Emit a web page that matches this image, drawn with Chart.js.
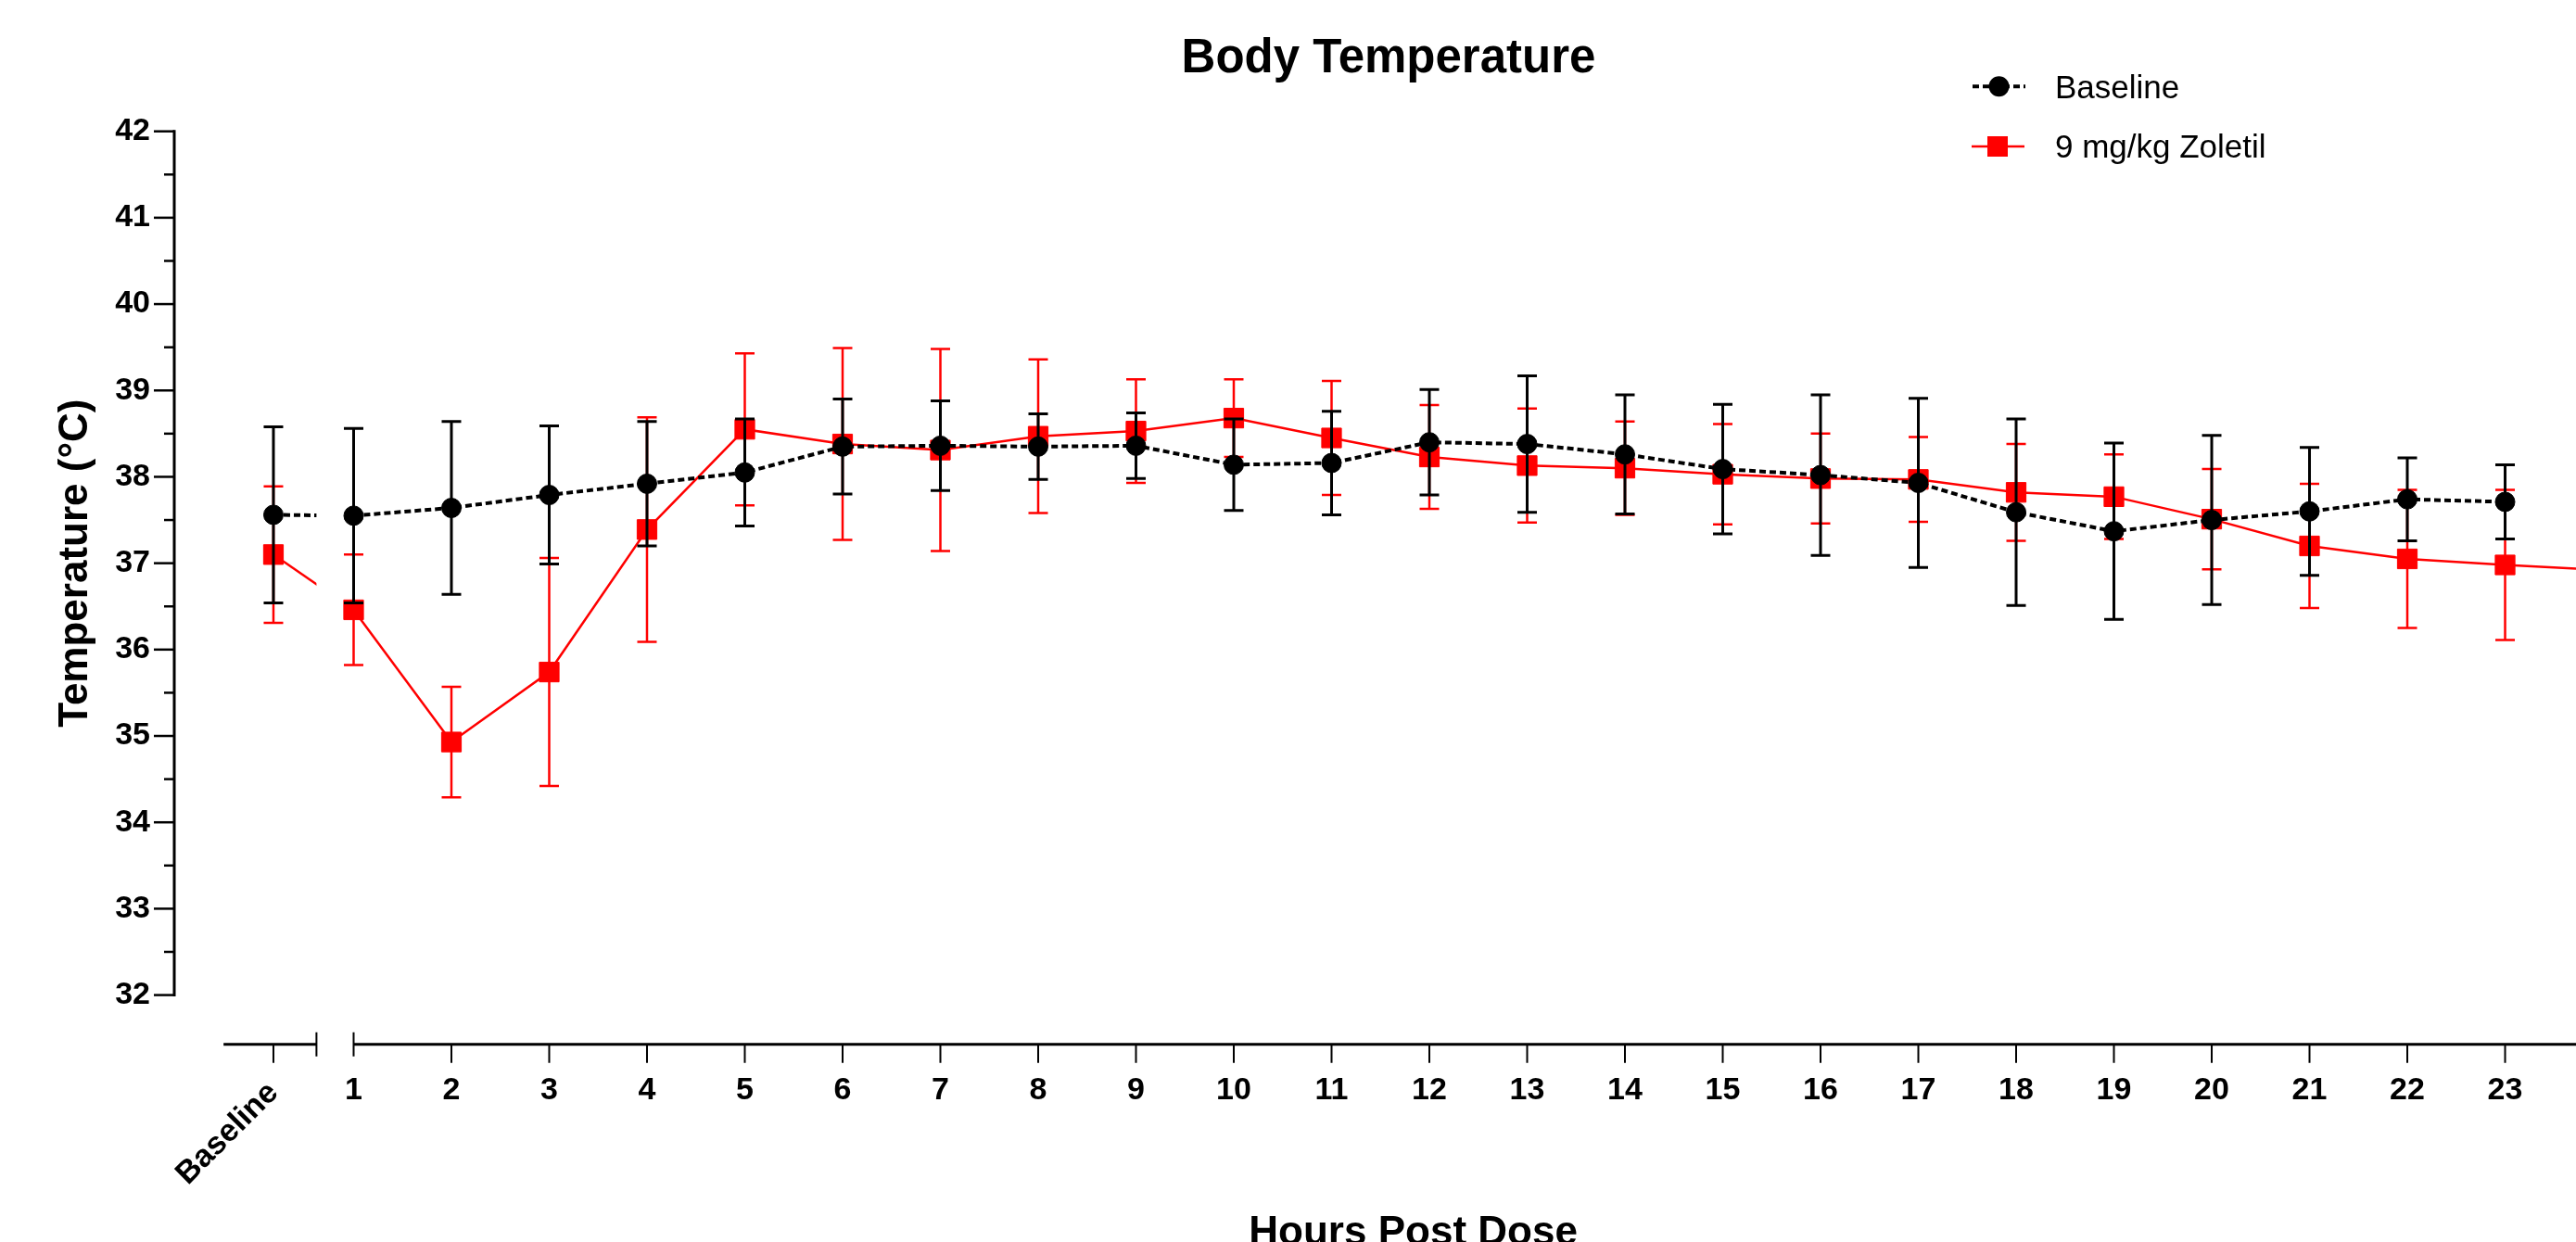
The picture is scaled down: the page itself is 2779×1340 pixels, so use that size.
<!DOCTYPE html>
<html>
<head>
<meta charset="utf-8">
<script src="https://cdn.jsdelivr.net/npm/chart.js@4.4.1/dist/chart.umd.min.js"></script>
<style>
  html, body { margin: 0; padding: 0; overflow: hidden; background: #fff; }
  canvas { display: block; }
</style>
</head>
<body>
<canvas id="graf_temp" width="2779" height="1340"></canvas>
<script>
// Datos: media y desviacion por hora (indice 0 = Baseline)
var hours = [1, 2, 3, 4, 5, 6, 7, 8, 9, 10, 11, 12, 13, 14, 15, 16, 17, 18, 19, 20, 21, 22, 23, 24];
var hourLabels = ['1', '2', '3', '4', '5', '6', '7', '8', '9', '10', '11', '12',
  '13', '14', '15', '16', '17', '18', '19', '20', '21', '22', '23'];
var baselineLabel = 'Baseline';
var yTickValues = [32, 33, 34, 35, 36, 37, 38, 39, 40, 41, 42];

var baselineMean = [37.56, 37.55, 37.64, 37.79, 37.92, 38.05, 38.35, 38.36, 38.35, 38.36, 38.14, 38.16,
  38.40, 38.38, 38.26, 38.09, 38.02, 37.93, 37.59, 37.37, 37.50, 37.60, 37.74, 37.71, null];
var baselineSD = [1.02, 1.01, 1.00, 0.80, 0.72, 0.62, 0.55, 0.52, 0.38, 0.38, 0.53, 0.60,
  0.61, 0.79, 0.69, 0.75, 0.93, 0.98, 1.08, 1.02, 0.98, 0.74, 0.48, 0.43, null];

var zoletilMean = [37.10, 36.46, 34.93, 35.74, 37.39, 38.55, 38.38, 38.31, 38.47, 38.53, 38.68, 38.45,
  38.23, 38.13, 38.10, 38.03, 37.98, 37.97, 37.82, 37.77, 37.51, 37.20, 37.05, 36.98, 36.92];
var zoletilSD = [0.79, 0.64, 0.64, 1.32, 1.30, 0.88, 1.11, 1.17, 0.89, 0.60, 0.45, 0.66,
  0.60, 0.66, 0.54, 0.58, 0.52, 0.49, 0.56, 0.49, 0.58, 0.72, 0.80, 0.87, null];

var chartTitle = 'Body Temperature';
var xTitle = 'Hours Post Dose';
var yTitle = 'Temperature (°C)';

// Posicion del Baseline en el eje x y el corte del eje
var BASELINE_POS = 0.18;
var SEG1 = [-0.33, 0.62];
var AXIS_END = 24;
var X_MIN = -0.834, X_MAX = 23.725;
var Y_MIN = 31.43, Y_MAX = 42;
var FONT = '"Liberation Sans", Arial, sans-serif';
var xValues = [BASELINE_POS].concat(hours);

function toPoints(means) {
  return xValues.map(function (x, i) { return { x: x, y: means[i] }; })
    .filter(function (p) { return p.y !== null; });
}

var hideFirst = function (c) { return c.p0DataIndex === 0 ? 'rgba(0,0,0,0)' : undefined; };

var datasets = [
  {
    label: 'Baseline',
    data: toPoints(baselineMean),
    sd: baselineSD, means: baselineMean,
    borderColor: '#000', backgroundColor: '#000',
    borderWidth: 4, borderDash: [7, 4],
    pointStyle: 'circle', pointRadius: 10.5, pointBorderWidth: 1,
    pointBackgroundColor: '#000', pointBorderColor: '#000',
    errWidth: 3, tension: 0,
    segment: { borderColor: hideFirst }
  },
  {
    label: 'stub1', stub: true,
    data: toPoints(baselineMean).slice(0, 2),
    borderColor: '#000', borderWidth: 4, borderDash: [7, 4],
    pointRadius: 0, tension: 0
  },
  {
    label: '9 mg/kg Zoletil',
    data: toPoints(zoletilMean),
    sd: zoletilSD, means: zoletilMean,
    borderColor: '#ff0000', backgroundColor: '#ff0000',
    borderWidth: 2.5,
    pointStyle: 'rect', pointRadius: 15, pointBorderWidth: 1,
    pointBackgroundColor: '#ff0000', pointBorderColor: '#ff0000',
    errWidth: 2.5, tension: 0,
    segment: { borderColor: hideFirst }
  },
  {
    label: 'stub2', stub: true,
    data: toPoints(zoletilMean).slice(0, 2),
    borderColor: '#ff0000', borderWidth: 2.5,
    pointRadius: 0, tension: 0
  }
];

// Ejes tipo Prism, barras de error, titulos y leyenda
var prismPlugin = {
  id: 'prism',
  beforeDatasetDraw: function (chart, args) {
    var ds = chart.data.datasets[args.index];
    var ctx = chart.ctx, area = chart.chartArea;
    var xs = chart.scales.x, ys = chart.scales.y;
    if (ds.stub) {
      var xb = xs.getPixelForValue(SEG1[1]);
      ctx.save();
      ctx.beginPath();
      ctx.rect(area.left, area.top, xb - area.left, area.bottom - area.top);
      ctx.clip();
      return;
    }
    ctx.save();
    ctx.strokeStyle = ds.borderColor;
    ctx.lineWidth = ds.errWidth;
    xValues.forEach(function (xv, i) {
      var m = ds.means[i], s = ds.sd[i];
      if (m === null || s === null) return;
      var x = xs.getPixelForValue(xv);
      var y1 = ys.getPixelForValue(m + s), y2 = ys.getPixelForValue(m - s);
      ctx.beginPath();
      ctx.moveTo(x, y1); ctx.lineTo(x, y2);
      ctx.moveTo(x - 10.5, y1); ctx.lineTo(x + 10.5, y1);
      ctx.moveTo(x - 10.5, y2); ctx.lineTo(x + 10.5, y2);
      ctx.stroke();
    });
    ctx.restore();
  },
  afterDatasetDraw: function (chart, args) {
    if (chart.data.datasets[args.index].stub) chart.ctx.restore();
  },
  afterDraw: function (chart) {
    var ctx = chart.ctx, area = chart.chartArea;
    var xs = chart.scales.x, ys = chart.scales.y;
    var xEnd = xs.getPixelForValue(AXIS_END);
    ctx.save();
    ctx.strokeStyle = '#000';
    ctx.lineCap = 'butt';

    // eje y
    ctx.lineWidth = 3;
    ctx.beginPath();
    ctx.moveTo(area.left, ys.getPixelForValue(Y_MAX) - 1.5);
    ctx.lineTo(area.left, ys.getPixelForValue(32) + 1.5);
    ctx.stroke();
    ctx.lineWidth = 2.5;
    for (var v = 32; v <= 42; v += 0.5) {
      var y = ys.getPixelForValue(v);
      var len = (v % 1 === 0) ? 22 : 11;
      ctx.beginPath();
      ctx.moveTo(area.left - len, y); ctx.lineTo(area.left, y);
      ctx.stroke();
    }

    // eje x con corte
    var yb = area.bottom;
    ctx.lineWidth = 3;
    ctx.beginPath();
    ctx.moveTo(xs.getPixelForValue(SEG1[0]), yb); ctx.lineTo(xs.getPixelForValue(SEG1[1]), yb);
    ctx.moveTo(xs.getPixelForValue(1), yb); ctx.lineTo(xEnd, yb);
    ctx.stroke();
    ctx.lineWidth = 2;
    ctx.beginPath();
    [SEG1[1], 1].forEach(function (b) {
      var xb = xs.getPixelForValue(b);
      ctx.moveTo(xb, yb - 13); ctx.lineTo(xb, yb + 13);
    });
    [BASELINE_POS].concat(hours.slice(1)).forEach(function (h) {
      var xt = xs.getPixelForValue(h);
      ctx.moveTo(xt, yb); ctx.lineTo(xt, yb + 20);
    });
    ctx.stroke();

    ctx.fillStyle = '#000';
    ctx.textAlign = 'center';
    ctx.textBaseline = 'alphabetic';
    // titulo del grafico, centrado sobre el eje completo
    ctx.font = 'bold 51px ' + FONT;
    ctx.fillText(chartTitle, (area.left + xEnd) / 2, 78.3);

    // titulo eje x, centrado sobre la linea del eje
    ctx.font = 'bold 44px ' + FONT;
    ctx.fillText(xTitle, (xs.getPixelForValue(SEG1[0]) + xEnd) / 2, 1343);

    // titulo eje y
    ctx.save();
    ctx.translate(94, ys.getPixelForValue(37));
    ctx.rotate(-Math.PI / 2);
    ctx.fillText(yTitle, 0, 0);
    ctx.restore();

    // etiqueta Baseline girada
    ctx.font = 'bold 34px ' + FONT;
    ctx.translate(xs.getPixelForValue(BASELINE_POS), yb + 47);
    ctx.rotate(-Math.PI / 4);
    ctx.textAlign = 'right';
    ctx.textBaseline = 'middle';
    ctx.fillText(baselineLabel, 0, 0);
    ctx.restore();

    // leyenda
    ctx.save();
    ctx.strokeStyle = '#000';
    ctx.fillStyle = '#000';
    ctx.lineWidth = 4;
    ctx.setLineDash([7, 4]);
    ctx.beginPath();
    ctx.moveTo(2128, 93.3); ctx.lineTo(2185, 93.3);
    ctx.stroke();
    ctx.setLineDash([]);
    ctx.beginPath();
    ctx.arc(2156.5, 93.3, 11, 0, Math.PI * 2);
    ctx.fill();
    ctx.strokeStyle = '#ff0000';
    ctx.fillStyle = '#ff0000';
    ctx.lineWidth = 2.5;
    ctx.beginPath();
    ctx.moveTo(2127, 158); ctx.lineTo(2184, 158);
    ctx.stroke();
    ctx.fillRect(2144, 147, 22, 22);
    ctx.fillStyle = '#000';
    ctx.font = '35px ' + FONT;
    ctx.textAlign = 'left';
    ctx.textBaseline = 'alphabetic';
    ctx.fillText(datasets[0].label, 2217, 106);
    ctx.fillText(datasets[2].label, 2217, 170);
    ctx.restore();
  }
};

var ctx = document.getElementById('graf_temp').getContext('2d');

var grafTemp = new Chart(ctx, {
  type: 'line',
  data: { datasets: datasets },
  plugins: [prismPlugin],
  options: {
    responsive: false,
    animation: false,
    devicePixelRatio: 1,
    layout: { autoPadding: false, padding: { top: 141.7, left: 0, right: 0, bottom: 0 } },
    plugins: {
      legend: { display: false },
      tooltip: { enabled: false },
      title: { display: false }
    },
    scales: {
      x: {
        type: 'linear',
        min: X_MIN, max: X_MAX,
        grid: { display: false, drawTicks: false },
        border: { display: false },
        afterBuildTicks: function (s) {
          s.ticks = hourLabels.map(function (l, i) { return { value: hours[i] }; });
        },
        afterFit: function (s) { s.height = 213.3; s.paddingLeft = 0; s.paddingRight = 0; },
        ticks: {
          autoSkip: false, maxRotation: 0, minRotation: 0,
          padding: 30, color: '#000',
          font: { family: FONT, size: 34, weight: 'bold' },
          callback: function (v) { return hourLabels[hours.indexOf(v)]; }
        }
      },
      y: {
        min: Y_MIN, max: Y_MAX,
        grid: { display: false, drawTicks: false },
        border: { display: false },
        afterBuildTicks: function (s) {
          s.ticks = yTickValues.map(function (v) { return { value: v }; });
        },
        afterFit: function (s) { s.width = 188; s.paddingTop = 0; s.paddingBottom = 0; },
        ticks: {
          padding: 26, color: '#000',
          font: { family: FONT, size: 34, weight: 'bold' },
          callback: function (v) { return String(v); }
        }
      }
    }
  }
});
</script>
</body>
</html>
